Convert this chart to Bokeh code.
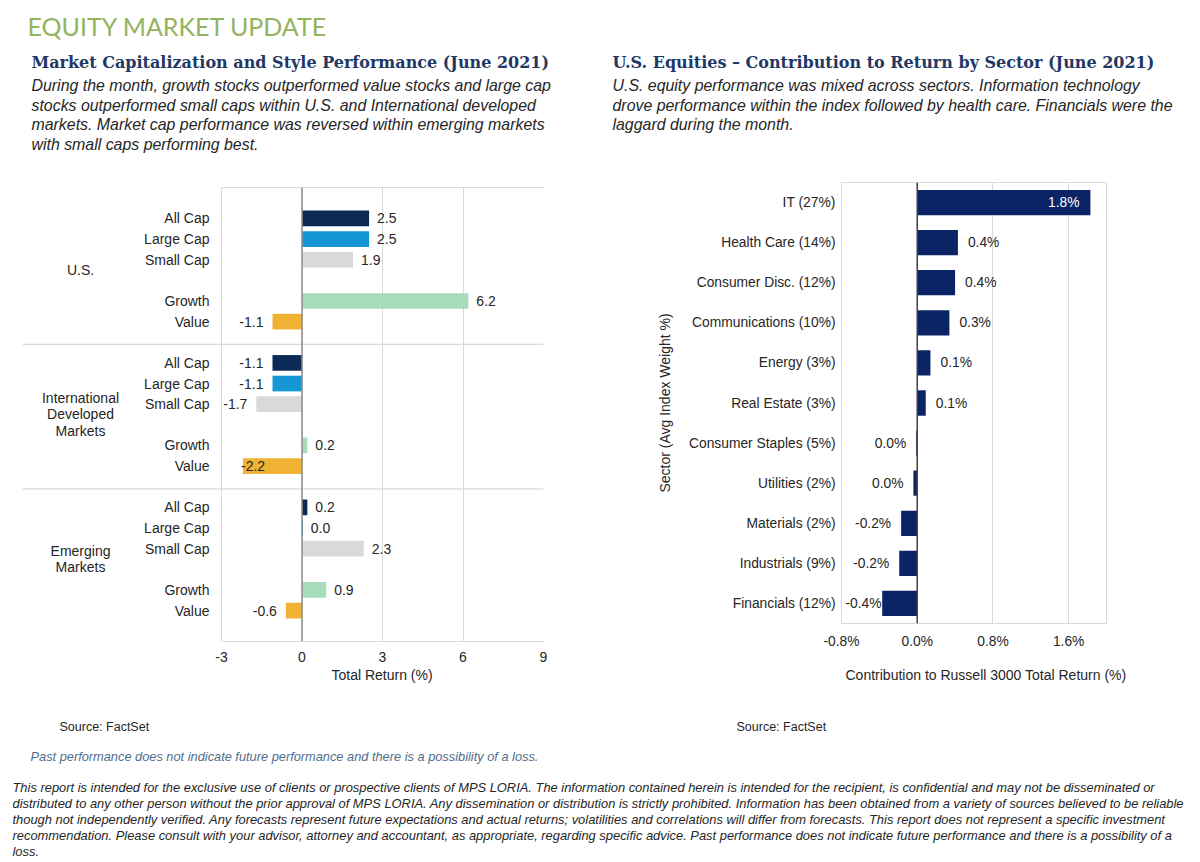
from bokeh.plotting import figure
from bokeh.models import (ColumnDataSource, FactorRange, Range1d, FixedTicker, LinearAxis,
                          Span, Title, PrintfTickFormatter)
from bokeh.layouts import column, row
from bokeh.core.properties import value
from bokeh.embed import file_html
from bokeh.resources import INLINE

# ---------------------------------------------------------------- data
regions = ["U.S.", "International Developed Markets", "Emerging Markets"]
region_labels = ["U.S.", "International\nDeveloped\nMarkets", "Emerging\nMarkets"]
segments = ["All Cap", "Large Cap", "Small Cap", "Growth", "Value"]
segment_kind = ["cap", "cap", "cap", "style", "style"]
us_returns = [2.5, 2.5, 1.9, 6.2, -1.1]
intl_returns = [-1.1, -1.1, -1.7, 0.2, -2.2]
em_returns = [0.2, 0.03, 2.3, 0.9, -0.6]
return_ticks = [-3, 0, 3, 6, 9]

sectors = ["IT (27%)", "Health Care (14%)", "Consumer Disc. (12%)", "Communications (10%)",
           "Energy (3%)", "Real Estate (3%)", "Consumer Staples (5%)", "Utilities (2%)",
           "Materials (2%)", "Industrials (9%)", "Financials (12%)"]
sector_contrib = [1.83, 0.43, 0.40, 0.34, 0.14, 0.09, -0.01, -0.04, -0.17, -0.19, -0.37]
contrib_ticks = [-0.8, 0.0, 0.8, 1.6]

# ---------------------------------------------------------------- text
page_title = "EQUITY MARKET UPDATE"
left_heading = "Market Capitalization and Style Performance (June 2021)"
left_text = ["During the month, growth stocks outperformed value stocks and large cap",
             "stocks outperformed small caps within U.S. and International developed",
             "markets. Market cap performance was reversed within emerging markets",
             "with small caps performing best."]
right_heading = "U.S. Equities \u2013 Contribution to Return by Sector (June 2021)"
right_text = ["U.S. equity performance was mixed across sectors. Information technology",
              "drove performance within the index followed by health care. Financials were the",
              "laggard during the month."]
source_text = "Source: FactSet"
past_text = "Past performance does not indicate future performance and there is a possibility of a loss."
disclaimer = [
    "This report is intended for the exclusive use of clients or prospective clients of MPS LORIA. The information contained herein is intended for the recipient, is confidential and may not be disseminated or",
    "distributed to any other person without the prior approval of MPS LORIA. Any dissemination or distribution is strictly prohibited. Information has been obtained from a variety of sources believed to be reliable",
    "though not independently verified. Any forecasts represent future expectations and actual returns; volatilities and correlations will differ from forecasts. This report does not represent a specific investment",
    "recommendation. Please consult with your advisor, attorney and accountant, as appropriate, regarding specific advice. Past performance does not indicate future performance and there is a possibility of a",
    "loss.",
]

# ---------------------------------------------------------------- style
SANS = "Liberation Sans"
SERIF = "DejaVu Serif"
TXT = "#262626"
NAVY_HEAD = "#1f3864"
GRID = "#d9d9d9"
SEG_COLORS = {"All Cap": "#0b2a55", "Large Cap": "#1497d4", "Small Cap": "#d9d9d9",
              "Growth": "#a6dcb9", "Value": "#f0b233"}
SECTOR_COLOR = "#0b2465"


def blank(w, h):
    p = figure(width=w, height=h, x_range=Range1d(0, w), y_range=Range1d(h, 0),
               output_backend="svg", toolbar_location=None, min_border=0,
               x_axis_location=None, y_axis_location=None)
    p.grid.visible = False
    p.outline_line_color = None
    p.frame_align = False
    return p


def put_lines(p, lines, x, y0, dy, size, color, font=SANS, style="normal"):
    src = ColumnDataSource(dict(t=lines, y=[y0 + i * dy for i in range(len(lines))]))
    p.text(x=x, y="y", text="t", source=src, text_font=value(font), text_font_style=style,
           text_font_size=size, text_color=color, text_baseline="middle", text_align="left")


# ---------------------------------------------------------------- header
header = blank(1200, 165)
header.text(x=[27], y=[25], text=[page_title], text_font=value("Lato"), text_font_size="25px",
            text_color="#93b35f", text_baseline="middle")
put_lines(header, [left_heading], 31, 62, 0, "16px", NAVY_HEAD, SERIF, "bold")
put_lines(header, [right_heading], 612, 62, 0, "16px", NAVY_HEAD, SERIF, "bold")
put_lines(header, left_text, 31, 85, 19.5, "15.9px", TXT, SANS, "italic")
put_lines(header, right_text, 612, 85, 19.5, "15.9px", TXT, SANS, "italic")

# ---------------------------------------------------------------- left chart
X_MIN, X_MAX = return_ticks[0], return_ticks[-1]
FRAME_L, AXIS_L, AXIS_R = 22, 221, 543          # pixel layout of the left chart
x_start = X_MIN - (AXIS_L - FRAME_L) * (X_MAX - X_MIN) / (AXIS_R - AXIS_L)

factors, rets, segs, cols = [], [], [], []
for r, vals in zip(regions, [us_returns, intl_returns, em_returns]):
    for s, k, v in zip(segments, segment_kind, vals):
        factors.append((r, k, s))
        rets.append(v)
        segs.append(s)
        cols.append(SEG_COLORS[s])

yr = FactorRange(factors=factors[::-1], factor_padding=0, subgroup_padding=1,
                 group_padding=1, range_padding=1, range_padding_units="absolute")
lp = figure(width=600, height=540, x_range=Range1d(x_start, X_MAX), y_range=yr,
            output_backend="svg", toolbar_location=None, y_axis_location=None,
            min_border_left=FRAME_L, min_border_right=600 - AXIS_R,
            min_border_top=22, min_border_bottom=64)
lp.frame_align = False
lp.outline_line_color = None
lp.ygrid.visible = False
lp.xgrid.grid_line_color = GRID
lp.xaxis.ticker = FixedTicker(ticks=return_ticks)
lp.xaxis.formatter = PrintfTickFormatter(format="%d")
lp.xaxis.bounds = (X_MIN, X_MAX)
lp.xaxis.axis_line_color = GRID
lp.xaxis.major_tick_out = 0
lp.xaxis.major_tick_in = 0
lp.xaxis.minor_tick_out = 0
lp.xaxis.minor_tick_in = 0
lp.xaxis.major_label_standoff = 10
lp.xaxis.major_label_text_font = SANS
lp.xaxis.major_label_text_font_size = "14px"
lp.xaxis.major_label_text_color = TXT
top_axis = LinearAxis(ticker=FixedTicker(ticks=[]), bounds=(X_MIN, X_MAX), axis_line_color=GRID,
                      major_tick_out=0, major_tick_in=0, minor_tick_out=0, minor_tick_in=0,
                      major_label_text_font_size="0px")
lp.add_layout(top_axis, "above")

src = ColumnDataSource(dict(factor=factors, ret=rets, seg=segs, color=cols))
lp.hbar(y="factor", left=0, right="ret", height=0.76, fill_color="color", line_color=None, source=src)
lp.add_layout(Span(location=0, dimension="height", line_color="#8c8c8c", line_width=1.5))

# category labels
lp.text(x=X_MIN, y="factor", text="seg", source=src, x_offset=-12, text_align="right",
        text_baseline="middle", text_font=value(SANS), text_font_size="14px", text_color=TXT)

# value labels
pos = dict(factor=[], t=[], x=[])
neg = dict(factor=[], t=[], x=[])
tight = dict(factor=[], t=[], x=[])
for f, v in zip(factors, rets):
    lab = f"{v:.1f}"
    d = pos if v >= 0 else (neg if v - X_MIN > 1.0 else tight)
    d["factor"].append(f)
    d["t"].append(lab)
    d["x"].append(v)
for d, off, al in [(pos, 8, "left"), (neg, -9, "right"), (tight, -2, "left")]:
    lp.text(x="x", y="factor", text="t", source=ColumnDataSource(d), x_offset=off, text_align=al,
            text_baseline="middle", text_font=value(SANS), text_font_size="14px", text_color=TXT)

# region labels and separators
g_src = ColumnDataSource(dict(y=[(r, "cap", "Small Cap", -0.5) for r in regions], t=region_labels))
lp.text(x=x_start, y="y", text="t", source=g_src, x_offset=58, text_align="center",
        text_baseline="middle", text_line_height=1.05, text_font=value(SANS),
        text_font_size="14px", text_color=TXT)
sep_src = ColumnDataSource(dict(y=[(r, "style", "Value", -1.1) for r in regions[:-1]]))
lp.segment(x0=x_start, x1=X_MAX, y0="y", y1="y", source=sep_src, line_color=GRID, line_width=1.2)

lp.add_layout(Title(text="Total  Return (%)", align="left", offset=AXIS_L - FRAME_L + 110,
                    standoff=0, text_font=SANS, text_font_size="14px",
                    text_font_style="normal", text_color=TXT), "below")

# ---------------------------------------------------------------- right chart
C_MIN, C_MAX = -0.8, 2.0
rp = figure(width=600, height=540, x_range=Range1d(C_MIN, C_MAX),
            y_range=FactorRange(factors=sectors[::-1]),
            output_backend="svg", toolbar_location=None,
            min_border_left=241, min_border_right=94, min_border_top=17, min_border_bottom=82)
rp.frame_align = False
rp.outline_line_color = GRID
rp.ygrid.visible = False
rp.xgrid.grid_line_color = GRID
rp.xaxis.ticker = FixedTicker(ticks=contrib_ticks)
rp.xaxis.formatter = PrintfTickFormatter(format="%.1f%%")
for ax in (rp.xaxis, rp.yaxis):
    ax.axis_line_color = None
    ax.major_tick_out = 0
    ax.major_tick_in = 0
    ax.minor_tick_out = 0
    ax.minor_tick_in = 0
    ax.major_label_text_font = SANS
    ax.major_label_text_font_size = "13.8px"
    ax.major_label_text_color = TXT
    ax.axis_label_text_font = SANS
    ax.axis_label_text_font_size = "14px"
    ax.axis_label_text_font_style = "normal"
    ax.axis_label_text_color = TXT
rp.xaxis.major_label_standoff = 10
rp.yaxis.major_label_standoff = 6
rp.yaxis.axis_label = "Sector (Avg Index Weight %)"
rp.yaxis.axis_label_standoff = 13
rp.add_layout(Title(text="Contribution to Russell 3000 Total Return (%)", align="left", offset=4,
                    standoff=26, text_font=SANS, text_font_size="14px",
                    text_font_style="normal", text_color=TXT), "below")

rsrc = ColumnDataSource(dict(sector=sectors, v=sector_contrib))
rp.hbar(y="sector", left=0, right="v", height=0.63, fill_color=SECTOR_COLOR, line_color=None, source=rsrc)
rp.add_layout(Span(location=0, dimension="height", line_color="#404040", line_width=1.5))

groups = {k: dict(s=[], t=[], x=[]) for k in ("out", "in", "neg", "edge")}
for s, v in zip(sectors, sector_contrib):
    lab = f"{abs(v) if round(v, 1) == 0 else v:.1f}%"
    if v > 1.2:
        k, x = "in", v
    elif v >= 0:
        k, x = "out", v
    elif v - C_MIN > 0.5:
        k, x = "neg", v
    else:
        k, x = "edge", C_MIN
    groups[k]["s"].append(s)
    groups[k]["t"].append(lab)
    groups[k]["x"].append(x)
for k, off, al, colr in [("out", 10, "left", TXT), ("in", -11, "right", "white"),
                         ("neg", -10, "right", TXT), ("edge", 4, "left", TXT)]:
    rp.text(x="x", y="s", text="t", source=ColumnDataSource(groups[k]), x_offset=off, text_align=al,
            text_baseline="middle", text_font=value(SANS), text_font_size="13.8px", text_color=colr)

# ---------------------------------------------------------------- footer
footer = blank(1200, 157)
put_lines(footer, [source_text], 59, 21, 0, "12.5px", TXT)
put_lines(footer, [source_text], 736, 21, 0, "12.5px", TXT)
put_lines(footer, [past_text], 30, 51, 0, "12.8px", "#4f6d8f", SANS, "italic")
put_lines(footer, disclaimer, 12, 82, 16, "12.9px", TXT, SANS, "italic")

page = column(header, row(lp, rp), footer)
open("out.html", "w").write(file_html(page, INLINE))
